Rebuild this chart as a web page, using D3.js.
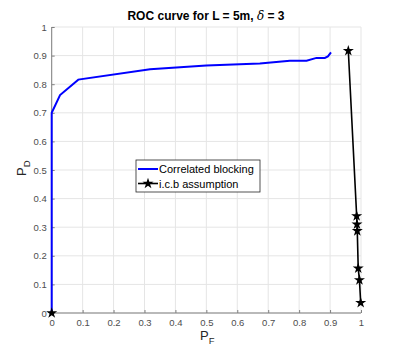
<!DOCTYPE html>
<html>
<head>
<meta charset="utf-8">
<script src="https://cdn.jsdelivr.net/npm/d3@7"></script>
<style>
  body { margin: 0; background: #fff; }
  text { font-family: "Liberation Sans", Arial, sans-serif; }
</style>
</head>
<body>
<div id="chart"></div>
<script>
// Correlated blocking curve
const corrPF = [0, 0, 0.027, 0.086, 0.318, 0.5, 0.673, 0.77, 0.824, 0.856, 0.883, 0.893, 0.903];
const corrPD = [0, 0.7, 0.762, 0.816, 0.852, 0.865, 0.872, 0.882, 0.882, 0.892, 0.892, 0.897, 0.911];

// i.c.b assumption curve
const icbPF = [0.959, 0.986, 0.987, 0.988, 0.991, 0.995, 0.999];
const icbPD = [0.917, 0.339, 0.31, 0.287, 0.156, 0.115, 0.036];
const icbOrigin = [0, 0];

const ticks = [0, 0.1, 0.2, 0.3, 0.4, 0.5, 0.6, 0.7, 0.8, 0.9, 1];
const legendLabels = ['Correlated blocking', 'i.c.b assumption'];

const width = 399;
const height = 352;

const svg = d3.select('#chart').append('svg')
  .attr('width', width)
  .attr('height', height);

const x = d3.scaleLinear().domain([0, 1]).range([51.7, 361]);
const y = d3.scaleLinear().domain([0, 1]).range([313, 27]);

const fmt = (d) => (d === 0 || d === 1 ? String(d) : d.toFixed(1));

// grid
const grid = svg.append('g');
grid.selectAll('.vx').data(ticks).join('line')
  .attr('x1', (d) => x(d)).attr('x2', (d) => x(d))
  .attr('y1', y(0)).attr('y2', y(1))
  .attr('stroke', '#e5e5e5').attr('stroke-width', 1);
grid.selectAll('.hy').data(ticks).join('line')
  .attr('x1', x(0)).attr('x2', x(1))
  .attr('y1', (d) => y(d)).attr('y2', (d) => y(d))
  .attr('stroke', '#e5e5e5').attr('stroke-width', 1);

// axes
const xAxis = d3.axisBottom(x).tickValues(ticks).tickFormat(fmt).tickSize(-3).tickPadding(6);
const yAxis = d3.axisLeft(y).tickValues(ticks).tickFormat(fmt).tickSize(-3).tickPadding(5);

const gx = svg.append('g').attr('transform', `translate(0,${y(0)})`).call(xAxis);
const gy = svg.append('g').attr('transform', `translate(${x(0)},0)`).call(yAxis);
[gx, gy].forEach((g) => {
  g.select('.domain').attr('stroke', '#808080').attr('d',
    g === gx ? `M${x(0)},0H${x(1)}` : `M0,${y(0)}V${y(1)}`);
  g.selectAll('.tick line').attr('stroke', '#808080');
  g.selectAll('.tick text').attr('fill', '#4d4d4d')
    .style('font-size', '9.5px');
});

// lines
const line = d3.line().x((d) => x(d[0])).y((d) => y(d[1]));
const corr = corrPF.map((d, i) => [d, corrPD[i]]);
const icb = icbPF.map((d, i) => [d, icbPD[i]]);

svg.append('path').datum(corr)
  .attr('d', line).attr('fill', 'none')
  .attr('stroke', '#0000ff').attr('stroke-width', 2);

svg.append('path').datum(icb)
  .attr('d', line).attr('fill', 'none')
  .attr('stroke', '#000').attr('stroke-width', 1.6);

const star = d3.symbol().type(d3.symbolStar).size(38);
svg.append('g').selectAll('path').data(icb.concat([icbOrigin])).join('path')
  .attr('transform', (d) => `translate(${x(d[0])},${y(d[1])})`)
  .attr('d', star).attr('fill', '#000');

// title
const title = svg.append('text')
  .attr('x', 206).attr('y', 20)
  .attr('text-anchor', 'middle')
  .style('font-size', '12px').style('font-weight', 'bold');
title.append('tspan').text('ROC curve for L = 5m, ');
title.append('tspan').text('δ')
  .style('font-family', '"DejaVu Serif", serif').style('font-style', 'italic').style('font-weight', 'normal');
title.append('tspan').text(' = 3');

// axis labels
const xl = svg.append('text').attr('x', 200).attr('y', 340)
  .style('font-size', '13px').attr('fill', '#262626');
xl.append('tspan').text('P');
xl.append('tspan').text('F').attr('dy', 4).style('font-size', '9.5px');

const yl = svg.append('text')
  .attr('transform', 'translate(26,176) rotate(-90)')
  .style('font-size', '13px').attr('fill', '#262626');
yl.append('tspan').text('P');
yl.append('tspan').text('D').attr('dy', 4).style('font-size', '9.5px');

// legend
const lg = svg.append('g');
lg.append('rect').attr('x', 136).attr('y', 160).attr('width', 124).attr('height', 32)
  .attr('fill', '#fff').attr('stroke', '#262626').attr('stroke-width', 0.8);
const legendY = [169, 183.5];
lg.append('line').attr('x1', 138).attr('x2', 158).attr('y1', legendY[0]).attr('y2', legendY[0])
  .attr('stroke', '#0000ff').attr('stroke-width', 2);
lg.append('line').attr('x1', 138).attr('x2', 158).attr('y1', legendY[1]).attr('y2', legendY[1])
  .attr('stroke', '#000').attr('stroke-width', 1.6);
lg.append('path').attr('transform', `translate(148,${legendY[1]})`).attr('d', star).attr('fill', '#000');
lg.selectAll('text').data(legendLabels).join('text')
  .attr('x', 159).attr('y', (d, i) => legendY[i] + 4)
  .style('font-size', '11px').attr('fill', '#000')
  .text((d) => d);
</script>
</body>
</html>
